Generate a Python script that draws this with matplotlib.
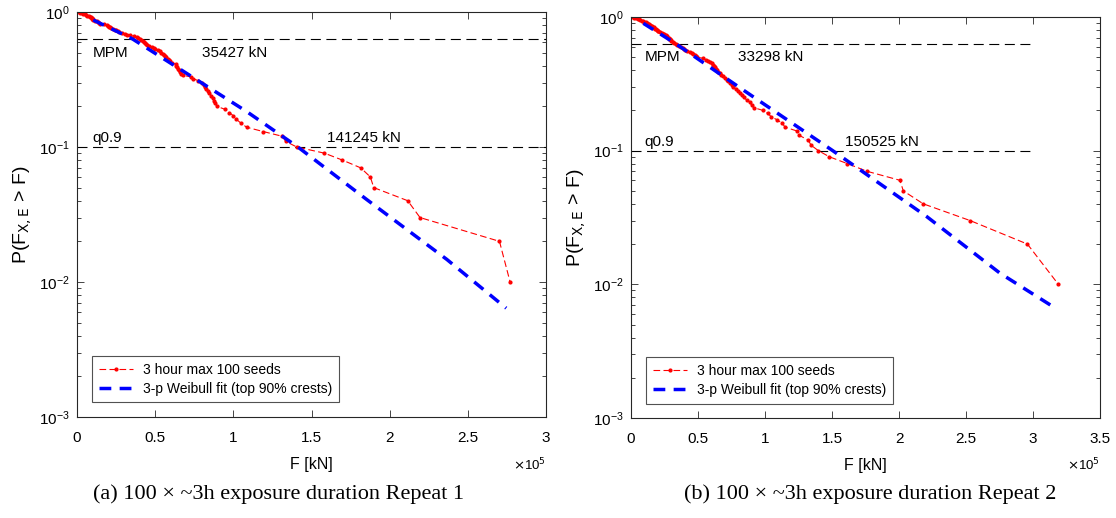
import numpy as np
import matplotlib
matplotlib.use("Agg")
import matplotlib.pyplot as plt
from matplotlib.ticker import FuncFormatter, LogLocator, NullFormatter

plt.rcParams['font.family'] = ['Liberation Sans', 'DejaVu Sans']

# exceedance probability levels of the 100 sorted seeds (1.00 ... 0.01)
p_levels = [k / 100 for k in range(100, 0, -1)]

# Repeat 1: sorted 3-hour maxima [kN], one per probability level above
f_rep1 = [0, 2000, 3000, 4000, 5000, 5500, 6500, 7500, 8500, 9000,
          9500, 9800, 10000, 10500, 11500, 12500, 13500, 14300, 15000, 17000,
          19000, 19800, 20500, 21100, 22000, 23200, 24300, 25200, 26000, 27000,
          29000, 31000, 32200, 34000, 36500, 38200, 39000, 40000, 41000, 42000,
          42800, 43400, 44200, 45000, 46200, 47700, 49000, 50000, 51500, 53000,
          54000, 54800, 55600, 56500, 57200, 58000, 58800, 59600, 61000, 63000,
          63600, 64200, 64600, 65000, 66000, 66800, 67600, 73000, 74500, 77500,
          80000, 81200, 81800, 82600, 83500, 84500, 85800, 86800, 87600, 88500,
          89400, 94700, 97500, 100000, 102000, 104900, 108500, 119200, 131300, 133500,
          140500, 158200, 169700, 181500, 187600, 189800, 211500, 219400, 270200, 277000]

# Repeat 2
f_rep2 = [0, 2000, 3500, 5000, 6000, 7000, 8000, 8800, 9500, 11000,
          12000, 13000, 13700, 14300, 15000, 16000, 16800, 17500, 18200, 19000,
          19500, 20000, 20500, 21500, 22800, 24000, 25000, 25800, 26500, 27200,
          28000, 28500, 29000, 29600, 30200, 31000, 32200, 33300, 34000, 35500,
          37000, 38500, 39500, 40500, 41500, 44000, 45500, 46500, 47500, 48500,
          49500, 54000, 56000, 57500, 59000, 60500, 61400, 62200, 63000, 63600,
          64200, 65000, 66400, 67500, 69000, 70500, 71500, 72600, 74000, 75500,
          76300, 78500, 79500, 81000, 82600, 84000, 86300, 88500, 90000, 91500,
          98500, 102000, 104500, 109000, 113000, 114900, 124100, 125600, 132300, 134300,
          139800, 148000, 161400, 176300, 200700, 203200, 218100, 253000, 295800, 318900]

# 3-p Weibull fit curves (F [kN], P)
wb1_f = [10400, 35427, 108500, 141245, 185300, 236500, 274500]
wb1_p = [0.872, 0.632, 0.183, 0.1, 0.0408, 0.0147, 0.0064]
wb2_f = [9200, 33298, 83800, 150525, 220700, 275400, 317000]
wb2_p = [0.897, 0.632, 0.284, 0.1, 0.0321, 0.0121, 0.0066]

mpm_text = ["35427 kN", "33298 kN"]
q90_text = ["141245 kN", "150525 kN"]
captions = [r"(a) 100 × ~3h exposure duration Repeat 1",
            r"(b) 100 × ~3h exposure duration Repeat 2"]
xmax = [3e5, 3.5e5]
xticks = [[0, 0.5e5, 1e5, 1.5e5, 2e5, 2.5e5, 3e5],
          [0, 0.5e5, 1e5, 1.5e5, 2e5, 2.5e5, 3e5, 3.5e5]]

fig = plt.figure(figsize=(11.16, 5.18), dpi=100)
ax1 = fig.add_axes([0.0690, 0.195, 0.4203, 0.7819])
ax2 = fig.add_axes([0.5654, 0.1931, 0.4203, 0.7741])

data = [(ax1, f_rep1, wb1_f, wb1_p), (ax2, f_rep2, wb2_f, wb2_p)]
edge = '#262626'
for i, (ax, fr, wf, wp) in enumerate(data):
    ax.set_yscale('log')
    # reference lines
    ax.plot([0, 3e5], [0.632, 0.632], color='black', lw=0.8, dashes=(9, 5))
    ax.plot([0, 3e5], [0.1, 0.1], color='black', lw=0.8, dashes=(9, 5))
    l1, = ax.plot(fr, p_levels, color='red', lw=0.8, dashes=(6, 3),
                  marker='.', markersize=4, label='3 hour max 100 seeds')
    l2, = ax.plot(wf, wp, color='blue', lw=2.5, dashes=(3.4, 2.4),
                  label='3-p Weibull fit (top 90% crests)')
    ax.text(1e4, 0.5, 'MPM', fontsize=11, va='center', ha='left')
    ax.text(8e4, 0.5, mpm_text[i], fontsize=11, va='center', ha='left')
    ax.text(1e4, 0.117, 'q0.9', fontsize=11, va='center', ha='left')
    ax.text(1.6e5, 0.117, q90_text[i], fontsize=11, va='center', ha='left')

    ax.set_xlim(0, xmax[i])
    ax.set_ylim(1e-3, 1)
    ax.set_xticks(xticks[i])
    ax.xaxis.set_major_formatter(FuncFormatter(lambda v, pos: f'{v/1e5:g}'))
    ax.yaxis.set_major_locator(LogLocator(base=10, numticks=10))
    ax.yaxis.set_minor_locator(LogLocator(base=10, subs=np.arange(2, 10), numticks=20))
    ax.yaxis.set_minor_formatter(NullFormatter())
    ax.tick_params(which='both', direction='in', top=True, right=True,
                   labelsize=11, colors=edge, labelcolor='black')
    ax.tick_params(which='major', length=5, width=0.6, pad=5)
    ax.tick_params(which='minor', length=3, width=0.6)
    ax.tick_params(axis='x', which='major', pad=10)
    for s in ax.spines.values():
        s.set_linewidth(0.8)
        s.set_color(edge)
    ax.set_xlabel('F [kN]', fontsize=11.5, labelpad=9)
    ax.set_ylabel(r'P(F$_{\mathrm{X,E}}$ > F)', fontsize=14, labelpad=4)
    ax.text(1.0, -0.118, r'$\times$10$^{5}$', transform=ax.transAxes,
            ha='right', va='center', fontsize=9.5)
    leg = ax.legend(handles=[l1, l2], loc='lower left',
                    bbox_to_anchor=(0.033, 0.036), borderaxespad=0,
                    fontsize=10, frameon=True,
                    fancybox=False, edgecolor=edge, handlelength=2.5,
                    borderpad=0.45, labelspacing=0.4, handletextpad=0.7)
    leg.get_frame().set_linewidth(0.8)
    cx = [279, 870][i] / 1116
    fig.text(cx, 1 - 494 / 518, captions[i], ha='center', va='center',
             fontsize=16, family=['Liberation Serif', 'DejaVu Serif'])

fig.savefig('out.png', dpi=100)
